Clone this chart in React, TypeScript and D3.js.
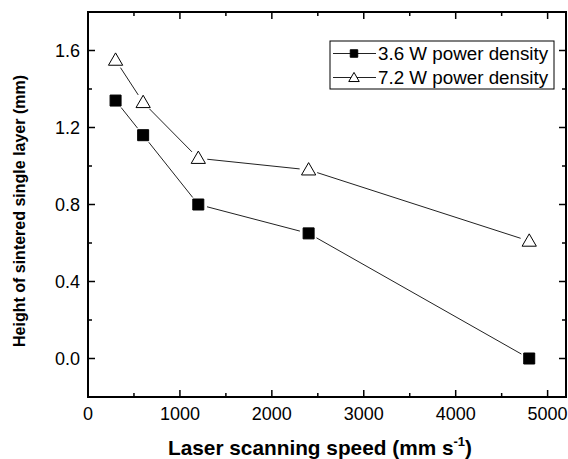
import React, { useRef, useEffect } from 'react';
import * as d3 from 'd3';

const speeds = [300, 600, 1200, 2400, 4800];
const height36 = [1.34, 1.16, 0.8, 0.65, 0.0];
const height72 = [1.55, 1.33, 1.04, 0.98, 0.61];
const seriesNames = ['3.6 W power density', '7.2 W power density'];
const xTicks = [0, 1000, 2000, 3000, 4000, 5000];
const yTicks = [0.0, 0.4, 0.8, 1.2, 1.6];

const W = 568;
const H = 459;
const margin = { left: 88, right: 2, top: 12, bottom: 62 };

export default function App() {
  const svgEl = useRef(null);

  useEffect(() => {
    const svg = d3.select(svgEl.current);
    svg.selectAll('*').remove();

    const x = d3.scaleLinear().domain([0, 5200]).range([margin.left, W - margin.right]);
    const y = d3.scaleLinear().domain([-0.2, 1.8]).range([H - margin.bottom, margin.top]);
    const font = 'Liberation Sans, Arial, sans-serif';

    const g = svg.append('g');

    // ticks on all four sides, pointing in
    const x0 = x.range()[0], x1 = x.range()[1];
    const y0 = y.range()[0], y1 = y.range()[1];
    const xMinor = d3.range(500, 5200, 1000);
    const yMinor = d3.range(-0.2, 1.8, 0.4).filter((v) => v > -0.2);

    const ticks = g.append('g').attr('stroke', '#000').attr('stroke-width', 1.5);
    xTicks.forEach((t) => {
      ticks.append('line').attr('x1', x(t)).attr('x2', x(t)).attr('y1', y0).attr('y2', y0 - 7);
      ticks.append('line').attr('x1', x(t)).attr('x2', x(t)).attr('y1', y1).attr('y2', y1 + 7);
    });
    xMinor.forEach((t) => {
      ticks.append('line').attr('x1', x(t)).attr('x2', x(t)).attr('y1', y0).attr('y2', y0 - 4);
      ticks.append('line').attr('x1', x(t)).attr('x2', x(t)).attr('y1', y1).attr('y2', y1 + 4);
    });
    yTicks.forEach((t) => {
      ticks.append('line').attr('y1', y(t)).attr('y2', y(t)).attr('x1', x0).attr('x2', x0 + 7);
      ticks.append('line').attr('y1', y(t)).attr('y2', y(t)).attr('x1', x1).attr('x2', x1 - 7);
    });
    yMinor.forEach((t) => {
      ticks.append('line').attr('y1', y(t)).attr('y2', y(t)).attr('x1', x0).attr('x2', x0 + 4);
      ticks.append('line').attr('y1', y(t)).attr('y2', y(t)).attr('x1', x1).attr('x2', x1 - 4);
    });

    g.append('rect')
      .attr('x', x0).attr('y', y1)
      .attr('width', x1 - x0).attr('height', y0 - y1)
      .attr('fill', 'none').attr('stroke', '#000').attr('stroke-width', 2);

    // tick labels
    g.selectAll('.xl').data(xTicks).enter().append('text')
      .attr('x', (d) => x(d)).attr('y', y0 + 23)
      .attr('text-anchor', 'middle').attr('font-family', font).attr('font-size', 18)
      .text((d) => d);
    g.selectAll('.yl').data(yTicks).enter().append('text')
      .attr('x', x0 - 8).attr('y', (d) => y(d) + 6.5)
      .attr('text-anchor', 'end').attr('font-family', font).attr('font-size', 18)
      .text((d) => d.toFixed(1));

    // axis titles
    const xt = g.append('text')
      .attr('x', 320).attr('y', 455)
      .attr('text-anchor', 'middle').attr('font-family', font)
      .attr('font-weight', 'bold').attr('font-size', 20.8);
    xt.append('tspan').text('Laser scanning speed (mm s');
    xt.append('tspan').attr('dy', -9).attr('font-size', 13).text('-1');
    xt.append('tspan').attr('dy', 9).text(')');

    g.append('text')
      .attr('transform', `translate(25,347) rotate(-90)`)
      .attr('text-anchor', 'start').attr('font-family', font)
      .attr('font-weight', 'bold').attr('font-size', 16)
      .text('Height of sintered single layer (mm)');

    // series
    const series = [
      { name: seriesNames[0], values: height36, shape: 'square' },
      { name: seriesNames[1], values: height72, shape: 'triangle' },
    ];
    const gap = 9;
    const sq = d3.symbol().type(d3.symbolSquare).size(121);
    const tri = d3.symbol().type(d3.symbolTriangle).size(88);

    series.forEach((s) => {
      const pts = speeds.map((v, i) => [x(v), y(s.values[i])]);
      const lines = g.append('g').attr('stroke', '#222').attr('stroke-width', 1);
      d3.pairs(pts).forEach(([a, b]) => {
        const dx = b[0] - a[0], dy = b[1] - a[1];
        const len = Math.hypot(dx, dy);
        const ux = dx / len, uy = dy / len;
        lines.append('line')
          .attr('x1', a[0] + ux * gap).attr('y1', a[1] + uy * gap)
          .attr('x2', b[0] - ux * gap).attr('y2', b[1] - uy * gap);
      });
      g.selectAll(null).data(pts).enter().append('path')
        .attr('transform', (d) => `translate(${d[0]},${d[1] + (s.shape === 'triangle' ? 1 : 0)})`)
        .attr('d', s.shape === 'square' ? sq : tri)
        .attr('fill', s.shape === 'square' ? '#000' : '#fff')
        .attr('stroke', '#000').attr('stroke-width', 1);
    });

    // legend
    const lg = g.append('g');
    lg.append('rect').attr('x', 330).attr('y', 41).attr('width', 224).attr('height', 48)
      .attr('fill', '#fff').attr('stroke', '#000').attr('stroke-width', 1);
    series.forEach((s, i) => {
      const cy = 53.5 + i * 24;
      lg.append('line').attr('x1', 333).attr('x2', 376).attr('y1', cy).attr('y2', cy)
        .attr('stroke', '#222').attr('stroke-width', 1);
      lg.append('path')
        .attr('transform', `translate(354,${cy + (s.shape === 'triangle' ? 1 : 0)})`)
        .attr('d', s.shape === 'square' ? d3.symbol().type(d3.symbolSquare).size(56) : d3.symbol().type(d3.symbolTriangle).size(48))
        .attr('fill', s.shape === 'square' ? '#000' : '#fff')
        .attr('stroke', '#000').attr('stroke-width', 1);
      lg.append('text').attr('x', 378).attr('y', cy + 6.5)
        .attr('font-family', font).attr('font-size', 18.8).text(s.name);
    });
  }, []);

  return (
    <div style={{ position: 'fixed', left: 0, top: 0 }}>
      <svg ref={svgEl} width={W} height={H} style={{ display: 'block', background: '#fff' }}></svg>
    </div>
  );
}
